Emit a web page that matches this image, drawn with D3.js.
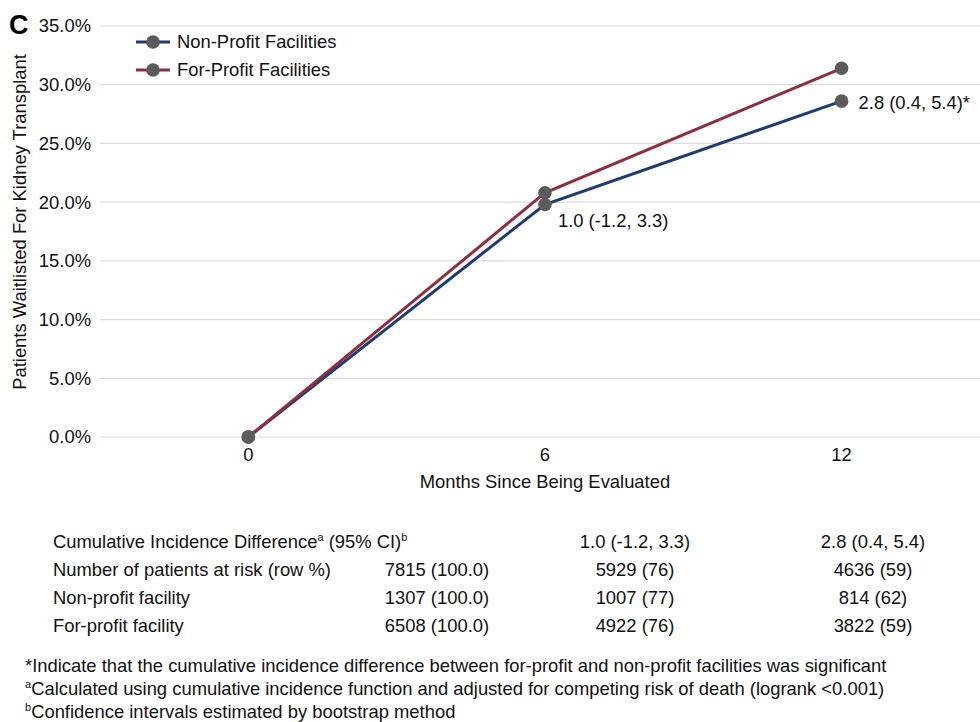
<!DOCTYPE html>
<html>
<head>
<meta charset="utf-8">
<script src="https://cdn.jsdelivr.net/npm/d3@7"></script>
<style>
  body { margin: 0; background: #fff; }
  svg { font-family: "Liberation Sans", Arial, Helvetica, sans-serif; }
</style>
</head>
<body>
<svg id="chart" width="980" height="722"></svg>
<script>
// Cumulative incidence of waitlisting by facility profit status
const months = [0, 6, 12];
const nonProfit = [0.0, 19.8, 28.6];
const forProfit = [0.0, 20.8, 31.4];
const seriesNames = ["Non-Profit Facilities", "For-Profit Facilities"];
const seriesColors = ["#1f3b73", "#8c2f3f"];
const yTicks = [0, 5, 10, 15, 20, 25, 30, 35];
const diffLabels = ["", "1.0 (-1.2, 3.3)", "2.8 (0.4, 5.4)*"];

// Table under the chart
const tableRows = [
  { label: "Cumulative Incidence Difference", sup: true, values: ["", "1.0 (-1.2, 3.3)", "2.8 (0.4, 5.4)"] },
  { label: "Number of patients at risk (row %)", values: ["7815 (100.0)", "5929 (76)", "4636 (59)"] },
  { label: "Non-profit facility", values: ["1307 (100.0)", "1007 (77)", "814 (62)"] },
  { label: "For-profit facility", values: ["6508 (100.0)", "4922 (76)", "3822 (59)"] }
];
const footnotes = [
  { sup: "", text: "*Indicate that the cumulative incidence difference between for-profit and non-profit facilities was significant" },
  { sup: "a", text: "Calculated using cumulative incidence function and adjusted for competing risk of death (logrank <0.001)" },
  { sup: "b", text: "Confidence intervals estimated by bootstrap method" }
];

const FS = 18.4;     // body text size
const SUP = 11;      // superscript size
const SUP_SHIFT = 7; // superscript raise, px
const ink = "#111";

const svg = d3.select("#chart");
const plotLeft = 100, plotRight = 980, plotTop = 26, plotBottom = 437;

const x = d3.scaleLinear().domain([-3, 14.8]).range([plotLeft, plotRight]);
const y = d3.scaleLinear().domain([0, 35]).range([plotBottom, plotTop]);

// Gridlines
svg.append("g").selectAll("line").data(yTicks).join("line")
  .attr("x1", plotLeft).attr("x2", plotRight)
  .attr("y1", d => y(d)).attr("y2", d => y(d))
  .attr("stroke", "#dcdcdc").attr("stroke-width", 1.2);

// Y tick labels
svg.append("g").selectAll("text").data(yTicks).join("text")
  .attr("x", 91).attr("y", d => y(d)).attr("dy", "0.35em")
  .attr("text-anchor", "end").attr("font-size", FS).attr("fill", ink)
  .text(d => d3.format(".1f")(d) + "%");

// X tick labels
svg.append("g").selectAll("text").data(months).join("text")
  .attr("x", d => x(d)).attr("y", 455).attr("dy", "0.35em")
  .attr("text-anchor", "middle").attr("font-size", FS).attr("fill", ink)
  .text(d => d);

// Axis titles
svg.append("text").attr("x", x(6)).attr("y", 482).attr("dy", "0.35em")
  .attr("text-anchor", "middle").attr("font-size", FS).attr("fill", ink)
  .text("Months Since Being Evaluated");
svg.append("text")
  .attr("transform", "translate(20,222) rotate(-90)")
  .attr("text-anchor", "middle").attr("dy", "0.35em").attr("font-size", FS).attr("fill", ink)
  .text("Patients Waitlisted For Kidney Transplant");

// Panel letter
svg.append("text").attr("x", 9).attr("y", 34).attr("font-size", 27)
  .attr("font-weight", "bold").attr("fill", "#000").text("C");

// Lines and markers
const series = [nonProfit, forProfit];
const line = d3.line().x((d, i) => x(months[i])).y(d => y(d));
series.forEach((vals, si) => {
  svg.append("path").datum(vals).attr("d", line)
    .attr("fill", "none").attr("stroke", seriesColors[si]).attr("stroke-width", 3);
});
series.forEach(vals => {
  svg.append("g").selectAll("circle").data(vals).join("circle")
    .attr("cx", (d, i) => x(months[i])).attr("cy", d => y(d)).attr("r", 6.8)
    .attr("fill", "#5b5b5b");
});

// Difference annotations next to the non-profit markers
svg.append("text").attr("x", x(6) + 13).attr("y", y(nonProfit[1]) + 16).attr("dy", "0.35em")
  .attr("font-size", FS).attr("fill", ink).text(diffLabels[1]);
svg.append("text").attr("x", x(12) + 17).attr("y", y(nonProfit[2]) + 1).attr("dy", "0.35em")
  .attr("font-size", FS).attr("fill", ink).text(diffLabels[2]);

// Legend
const legend = svg.append("g");
seriesNames.forEach((name, i) => {
  const ly = 42 + i * 28;
  legend.append("line").attr("x1", 136).attr("x2", 170).attr("y1", ly).attr("y2", ly)
    .attr("stroke", seriesColors[i]).attr("stroke-width", 3);
  legend.append("circle").attr("cx", 153).attr("cy", ly).attr("r", 6.8).attr("fill", "#5b5b5b");
  legend.append("text").attr("x", 177).attr("y", ly).attr("dy", "0.35em")
    .attr("font-size", FS).attr("fill", ink).text(name);
});

// Table
const colX = [437, 635, 873];
tableRows.forEach((row, ri) => {
  const ry = 542 + ri * 28;
  const t = svg.append("text").attr("x", 53).attr("y", ry + 6.4)
    .attr("font-size", FS).attr("fill", ink);
  if (row.sup) {
    t.append("tspan").text(row.label);
    t.append("tspan").attr("dy", -SUP_SHIFT).attr("font-size", SUP).text("a");
    t.append("tspan").attr("dy", SUP_SHIFT).text(" (95% CI)");
    t.append("tspan").attr("dy", -SUP_SHIFT).attr("font-size", SUP).text("b");
  } else {
    t.text(row.label);
  }
  row.values.forEach((v, ci) => {
    svg.append("text").attr("x", colX[ci]).attr("y", ry).attr("dy", "0.35em")
      .attr("text-anchor", "middle").attr("font-size", FS).attr("fill", ink).text(v);
  });
});

// Footnotes
footnotes.forEach((f, i) => {
  const fy = 666 + i * 23;
  const t = svg.append("text").attr("x", 25).attr("y", fy + 6.4)
    .attr("font-size", FS).attr("fill", ink);
  if (f.sup) {
    t.append("tspan").attr("dy", -SUP_SHIFT).attr("font-size", SUP).text(f.sup);
    t.append("tspan").attr("dy", SUP_SHIFT).text(f.text);
  } else {
    t.text(f.text);
  }
});
</script>
</body>
</html>
